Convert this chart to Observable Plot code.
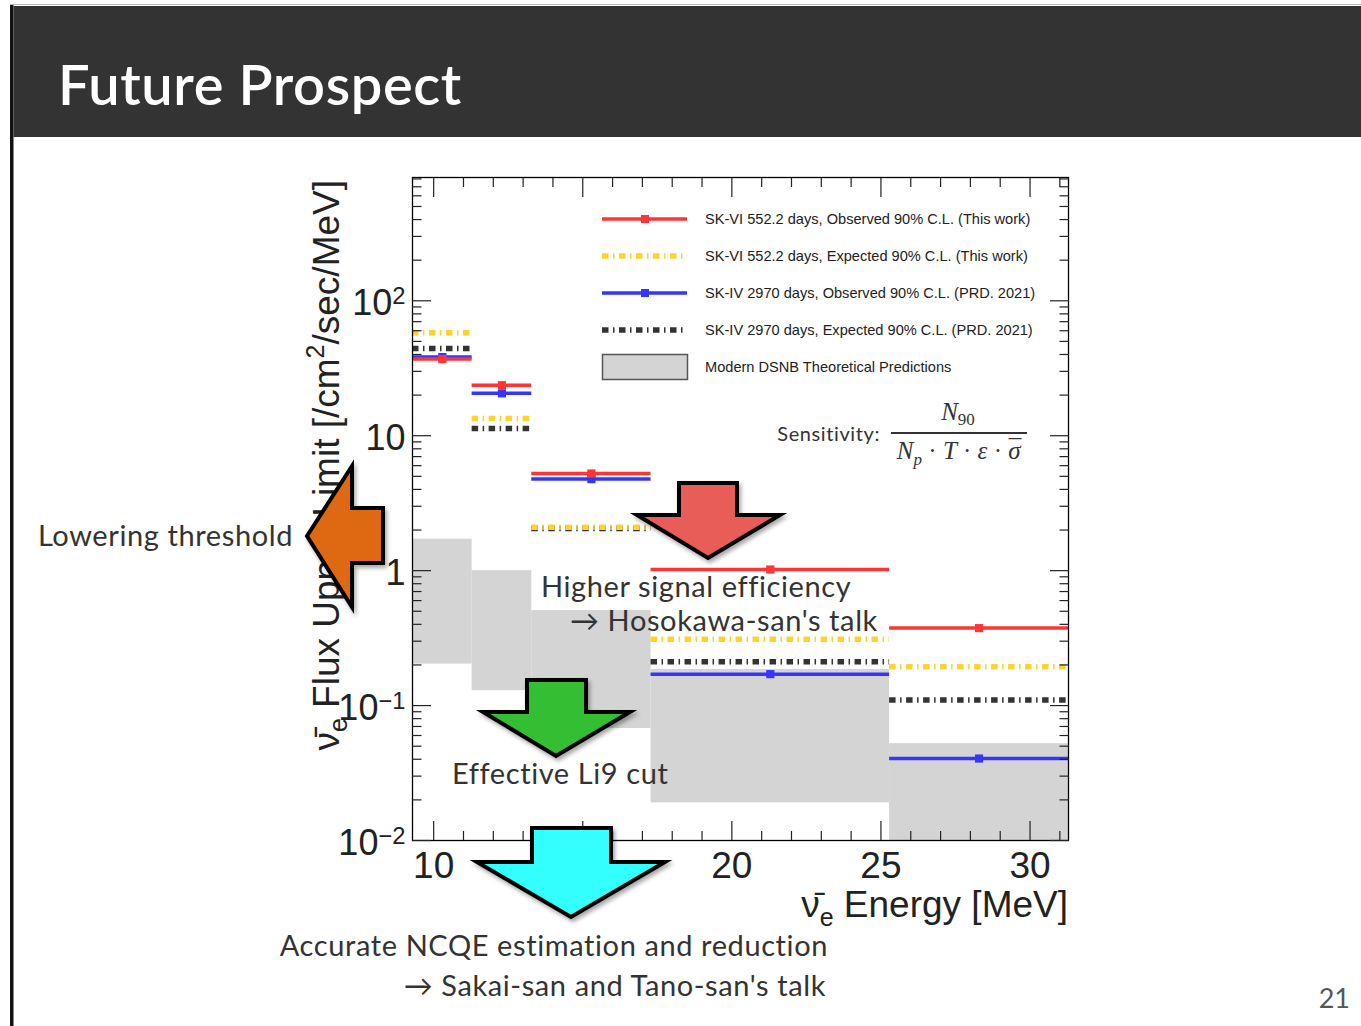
<!DOCTYPE html>
<html><head><meta charset="utf-8">
<script src="https://cdn.jsdelivr.net/npm/d3@7"></script>
<script src="https://cdn.jsdelivr.net/npm/@observablehq/plot@0.6"></script>
<style>
body{margin:0;background:#fff;}
#slide{position:relative;width:1361px;height:1026px;overflow:hidden;background:#fff;}
#chart{position:absolute;left:0;top:0;}
#overlay{position:absolute;left:0;top:0;pointer-events:none;}
</style></head><body>
<div id="slide"><div id="chart"></div><svg id="overlay" width="1361" height="1026"></svg></div>
<script>
// ---- data ----
const binLo = [9.29, 11.29, 13.29, 17.29, 25.29];
const binHi = [11.29, 13.29, 17.29, 25.29, 31.29];
const skviObs = [37.0, 23.7, 5.25, 1.02, 0.375];
const skviExp = [58.0, 13.4, 2.10, 0.31, 0.194];
const skivObs = [38.3, 20.6, 4.77, 0.171, 0.0405];
const skivExp = [44.3, 11.3, 2.05, 0.211, 0.110];
const theoryLo = [0.203, 0.129, 0.0676, 0.019, 0.01];
const theoryHi = [1.71, 1.0, 0.506, 0.185, 0.0522];
const legendLabels = [
  "SK-VI 552.2 days, Observed 90% C.L. (This work)",
  "SK-VI 552.2 days, Expected 90% C.L. (This work)",
  "SK-IV 2970 days, Observed 90% C.L. (PRD. 2021)",
  "SK-IV 2970 days, Expected 90% C.L. (PRD. 2021)",
  "Modern DSNB Theoretical Predictions"
];
const xMajor = [10, 15, 20, 25, 30];
const xMinor = [11, 12, 13, 14, 16, 17, 18, 19, 21, 22, 23, 24, 26, 27, 28, 29, 31];
const yMajor = [0.01, 0.1, 1, 10, 100];
const yMajorText = ["10^\u22122", "10^\u22121", "1", "10", "10^2"];
const yMinor = [0.02,0.03,0.04,0.05,0.06,0.07,0.08,0.09,0.2,0.3,0.4,0.5,0.6,0.7,0.8,0.9,2,3,4,5,6,7,8,9,20,30,40,50,60,70,80,90,200,300,400,500,600,700,800];

const rows = binLo.map((lo, i) => ({
  lo, hi: binHi[i], mid: (lo + binHi[i]) / 2,
  viObs: skviObs[i], viExp: skviExp[i], ivObs: skivObs[i], ivExp: skivExp[i],
  thLo: theoryLo[i], thHi: theoryHi[i]
}));

const RED = "#ff3535", BLUE = "#3535ff", YEL = "#ffd22e", BLK = "#333333", GRAY = "#d4d4d4";
const DASH = "6.5,4.5,1.5,4.5";
const rootFont = "'Liberation Sans', Arial, Helvetica, sans-serif";

const chart = Plot.plot({
  width: 1361, height: 1026,
  marginLeft: 412, marginRight: 293, marginTop: 177, marginBottom: 186,
  style: {background: "transparent", fontFamily: rootFont, color: "#222", overflow: "visible"},
  x: {domain: [9.29, 31.29]},
  y: {type: "log", domain: [0.01, 820]},
  marks: [
    Plot.rect(rows, {x1: "lo", x2: "hi", y1: "thLo", y2: "thHi", fill: GRAY, clip: true}),
    Plot.ruleY(rows, {x1: "lo", x2: "hi", y: "ivExp", stroke: BLK, strokeWidth: 5.5, strokeDasharray: DASH}),
    Plot.ruleY(rows, {x1: "lo", x2: "hi", y: "ivObs", stroke: BLUE, strokeWidth: 3.5}),
    Plot.dot(rows, {x: "mid", y: "ivObs", symbol: "square", r: 4.6, fill: BLUE}),
    Plot.ruleY(rows, {x1: "lo", x2: "hi", y: "viExp", stroke: YEL, strokeWidth: 5.5, strokeDasharray: DASH}),
    Plot.ruleY(rows, {x1: "lo", x2: "hi", y: "viObs", stroke: RED, strokeWidth: 3.5}),
    Plot.dot(rows, {x: "mid", y: "viObs", symbol: "square", r: 4.6, fill: RED}),
    Plot.frame({stroke: "#000", strokeWidth: 1.3}),
    // inward ticks on all four sides
    Plot.axisX(xMajor, {anchor: "bottom", tickSize: -19, fill: "none", label: null, strokeWidth: 1.2}),
    Plot.axisX(xMinor, {anchor: "bottom", tickSize: -9, fill: "none", label: null, strokeWidth: 1.2}),
    Plot.axisX(xMajor, {anchor: "top", tickSize: -19, fill: "none", label: null, strokeWidth: 1.2}),
    Plot.axisX(xMinor, {anchor: "top", tickSize: -9, fill: "none", label: null, strokeWidth: 1.2}),
    Plot.axisY(yMajor, {anchor: "left", tickSize: -19, fill: "none", label: null, strokeWidth: 1.2}),
    Plot.axisY(yMinor, {anchor: "left", tickSize: -9.5, fill: "none", label: null, strokeWidth: 1.2}),
    Plot.axisY(yMajor, {anchor: "right", tickSize: -19, fill: "none", label: null, strokeWidth: 1.2}),
    Plot.axisY(yMinor, {anchor: "right", tickSize: -9.5, fill: "none", label: null, strokeWidth: 1.2}),
    // tick labels
    Plot.axisX(xMajor, {anchor: "bottom", tickSize: 0, tickPadding: 11, fontSize: 37, label: null, tickFormat: d => String(d), fill: "#222"}),
    Plot.axisY(yMajor, {anchor: "left", tickSize: 0, tickPadding: 7, fontSize: 36, dy: 3, label: null, fill: "#222",
      tickFormat: d => yMajorText[yMajor.indexOf(d)]})
  ]
});
document.getElementById("chart").appendChild(chart);

// superscripts in y tick labels
const NS = "http://www.w3.org/2000/svg";
chart.querySelectorAll('[aria-label="y-axis tick label"] text').forEach(t => {
  const s = t.textContent, k = s.indexOf("^");
  if (k < 0) return;
  t.textContent = "";
  const a = document.createElementNS(NS, "tspan"); a.textContent = s.slice(0, k); t.appendChild(a);
  const b = document.createElementNS(NS, "tspan"); b.textContent = s.slice(k + 1);
  b.setAttribute("dy", "-0.48em"); b.setAttribute("font-size", "0.66em"); t.appendChild(b);
});

// ---- slide overlay ----
const ov = d3.select("#overlay");
const slideFont = "Lato, 'Open Sans', sans-serif";
// frame of slide
ov.append("rect").attr("x", 10).attr("y", 5).attr("width", 3.5).attr("height", 1021).attr("fill", "#111");
ov.append("rect").attr("x", 10).attr("y", 4).attr("width", 1351).attr("height", 1).attr("fill", "#bbb");
ov.append("rect").attr("x", 13.5).attr("y", 6).attr("width", 1348).attr("height", 131).attr("fill", "#333");
ov.append("text").attr("x", 58).attr("y", 105).attr("fill", "#fff").attr("font-family", slideFont)
  .attr("font-size", 56).attr("font-weight", 600).attr("letter-spacing", 0.6).text("Future Prospect");
ov.append("text").attr("x", 1350).attr("y", 1008).attr("text-anchor", "end").attr("fill", "#555")
  .attr("font-family", slideFont).attr("font-size", 27).text("21");

// legend
const legY = [219, 256, 293, 330, 367];
const legStyle = [
  {stroke: RED, w: 3.5, dash: null, marker: true},
  {stroke: YEL, w: 5.5, dash: DASH, marker: false},
  {stroke: BLUE, w: 3.5, dash: null, marker: true},
  {stroke: BLK, w: 5.5, dash: DASH, marker: false}
];
legStyle.forEach((s, i) => {
  const l = ov.append("line").attr("x1", 602).attr("x2", 687).attr("y1", legY[i]).attr("y2", legY[i])
    .attr("stroke", s.stroke).attr("stroke-width", s.w);
  if (s.dash) l.attr("stroke-dasharray", s.dash);
  if (s.marker) ov.append("rect").attr("x", 641).attr("y", legY[i] - 4).attr("width", 8).attr("height", 8).attr("fill", s.stroke);
});
ov.append("rect").attr("x", 602.5).attr("y", 354.5).attr("width", 85).attr("height", 25)
  .attr("fill", GRAY).attr("stroke", "#555").attr("stroke-width", 1.5);
legendLabels.forEach((t, i) => {
  ov.append("text").attr("x", 705).attr("y", legY[i] + 5).attr("font-family", rootFont)
    .attr("font-size", 14.6).attr("fill", "#222").text(t);
});

// sensitivity formula
ov.append("text").attr("x", 880).attr("y", 441).attr("text-anchor", "end").attr("font-family", slideFont)
  .attr("font-size", 20).attr("letter-spacing", 0.6).attr("fill", "#333").text("Sensitivity:");
ov.append("line").attr("x1", 891).attr("x2", 1027).attr("y1", 433).attr("y2", 433).attr("stroke", "#333").attr("stroke-width", 2);
const serif = "'Liberation Serif', 'DejaVu Serif', serif";
const num = ov.append("text").attr("x", 958).attr("y", 420).attr("text-anchor", "middle")
  .attr("font-family", serif).attr("font-size", 25).attr("fill", "#333");
num.append("tspan").attr("font-style", "italic").text("N");
num.append("tspan").attr("font-size", 17).attr("dy", 5).text("90");
const den = ov.append("text").attr("x", 959).attr("y", 459).attr("text-anchor", "middle")
  .attr("font-family", serif).attr("font-size", 25).attr("fill", "#333");
den.append("tspan").attr("font-style", "italic").text("N");
den.append("tspan").attr("font-style", "italic").attr("font-size", 17).attr("dy", 6).text("p");
den.append("tspan").attr("dy", -6).text(" \u00b7 ");
den.append("tspan").attr("font-style", "italic").text("T");
den.append("tspan").text(" \u00b7 ");
den.append("tspan").attr("font-style", "italic").text("\u03b5");
den.append("tspan").text(" \u00b7 ");
den.append("tspan").attr("font-style", "italic").text("\u03c3");
den.append("tspan").attr("dx", -12).attr("dy", -2).text("\u00af");

// axis titles
const yt = ov.append("text").attr("transform", "translate(339,180) rotate(-90)").attr("text-anchor", "end")
  .attr("font-family", rootFont).attr("font-size", 37).attr("fill", "#222");
yt.append("tspan").text("\u03bd\u0304");
yt.append("tspan").attr("font-size", 25).attr("dy", 8).text("e");
yt.append("tspan").attr("dy", -8).text(" Flux Upper Limit [/cm");
yt.append("tspan").attr("font-size", 25).attr("dy", -15).text("2");
yt.append("tspan").attr("dy", 15).text("/sec/MeV]");

const xt = ov.append("text").attr("x", 1068).attr("y", 917).attr("text-anchor", "end")
  .attr("font-family", rootFont).attr("font-size", 37).attr("fill", "#222");
xt.append("tspan").text("\u03bd\u0304");
xt.append("tspan").attr("font-size", 25).attr("dy", 9).text("e");
xt.append("tspan").attr("dy", -9).text(" Energy [MeV]");

// annotation texts
function note(x, y, t, anchor) {
  ov.append("text").attr("x", x).attr("y", y).attr("text-anchor", anchor || "start")
    .attr("font-family", slideFont).attr("font-size", 29).attr("letter-spacing", 0.6)
    .attr("fill", "#333").text(t);
}
note(293, 546, "Lowering threshold", "end");
note(541, 597, "Higher signal efficiency");
note(570, 631, "\u2192 Hosokawa-san's talk");
note(452, 784, "Effective Li9 cut");
note(828, 956, "Accurate NCQE estimation and reduction", "end");
note(826, 996, "\u2192 Sakai-san and Tano-san's talk", "end");

// arrows
function arrow(points, fill) {
  ov.append("polygon").attr("points", points.map(p => p.join(",")).join(" "))
    .attr("fill", fill).attr("stroke", "#000").attr("stroke-width", 4).attr("stroke-linejoin", "miter")
    .style("filter", "drop-shadow(2px 3px 2px rgba(0,0,0,0.35))");
}
function downArrow(sx1, sx2, top, hy, hx1, hx2, tx, ty, fill) {
  arrow([[sx1, top], [sx2, top], [sx2, hy], [hx2, hy], [tx, ty], [hx1, hy], [sx1, hy]], fill);
}
arrow([[307, 536], [352, 466], [352, 508], [383, 508], [383, 563], [352, 563], [352, 607]], "#de6912");
downArrow(679, 737, 483, 515, 637, 780, 708, 558, "#e85d57");
downArrow(527, 586, 680, 712, 483, 630, 556, 756, "#33be33");
downArrow(532, 611, 828, 862, 477, 665, 571, 917, "#33ffff");
</script>
</body></html>
